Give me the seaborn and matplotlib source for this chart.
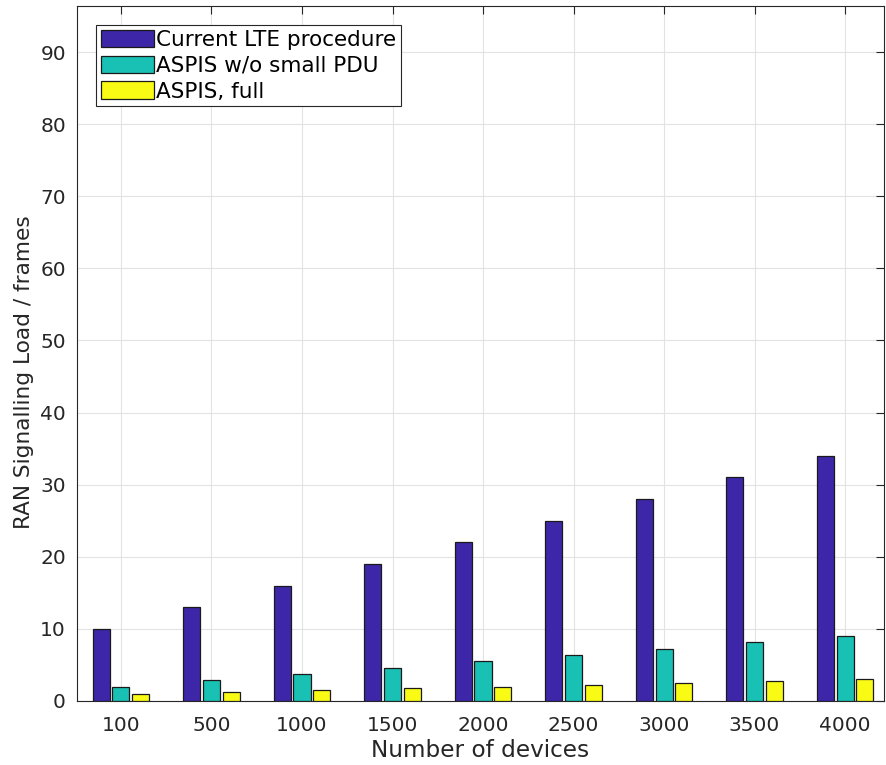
import numpy as np
import pandas as pd
import matplotlib
matplotlib.use("Agg")
import matplotlib.pyplot as plt
import seaborn as sns

# Signalling load per scenario
devices = ["100", "500", "1000", "1500", "2000", "2500", "3000", "3500", "4000"]
series_names = ["Current LTE procedure", "ASPIS w/o small PDU", "ASPIS, full"]
lte_load = [10, 13, 16, 19, 22, 25, 28, 31, 34]
aspis_no_pdu = [2.0, 2.875, 3.75, 4.625, 5.5, 6.375, 7.25, 8.125, 9.0]
aspis_full = [1.0, 1.25, 1.5, 1.75, 2.0, 2.25, 2.5, 2.75, 3.0]
colors = ["#3E26A8", "#19C0B4", "#F9FB15"]
y_ticks = [0, 10, 20, 30, 40, 50, 60, 70, 80, 90]

df = pd.DataFrame({
    "devices": devices * 3,
    "load": lte_load + aspis_no_pdu + aspis_full,
    "series": [s for s in series_names for _ in devices],
})

sns.set_style("white")
plt.rcParams["font.family"] = ["DejaVu Sans"]

fig = plt.figure(figsize=(8.86, 7.65), dpi=100)
ax = fig.add_axes([0.0869, 0.0837, 0.9108, 0.9085])

sns.barplot(data=df, x="devices", y="load", hue="series", order=devices,
            hue_order=series_names, palette=colors, width=0.66, gap=0.145,
            edgecolor="#1a1a1a", linewidth=0.9, saturation=1, ax=ax, zorder=3)

ax.set_xlim(-0.486, 8.43)
ax.set_ylim(0, 96.4)
ax.set_yticks(y_ticks)
ax.grid(True, color="#e3e3e3", linewidth=0.8, zorder=0)
ax.set_axisbelow(True)

ax.tick_params(axis="both", which="both", direction="in", length=6, width=0.8,
               colors="#262626", labelsize=14.5, top=True, right=True,
               labelcolor="#262626")
ax.tick_params(axis="x", pad=11)
ax.tick_params(axis="y", pad=8)
for sp in ax.spines.values():
    sp.set_color("#262626")
    sp.set_linewidth(0.8)

ax.set_xlabel("Number of devices", fontsize=16.7, color="#262626", labelpad=3)
ax.set_ylabel("RAN Signalling Load / frames", fontsize=15.6, color="#262626")
ax.yaxis.set_label_coords(-0.053, 0.473)

leg = ax.legend(loc="upper left", bbox_to_anchor=(0.0235, 0.9727),
                borderaxespad=0, fontsize=15.5, handlelength=2.47,
                handleheight=0.88, handletextpad=0.12, labelspacing=0.26,
                borderpad=0.22, fancybox=False, framealpha=1, title=None)
leg.get_frame().set_edgecolor("#262626")
leg.get_frame().set_linewidth(0.8)
for t in leg.get_texts():
    t.set_color("#000000")

fig.savefig("out.png", dpi=100)
